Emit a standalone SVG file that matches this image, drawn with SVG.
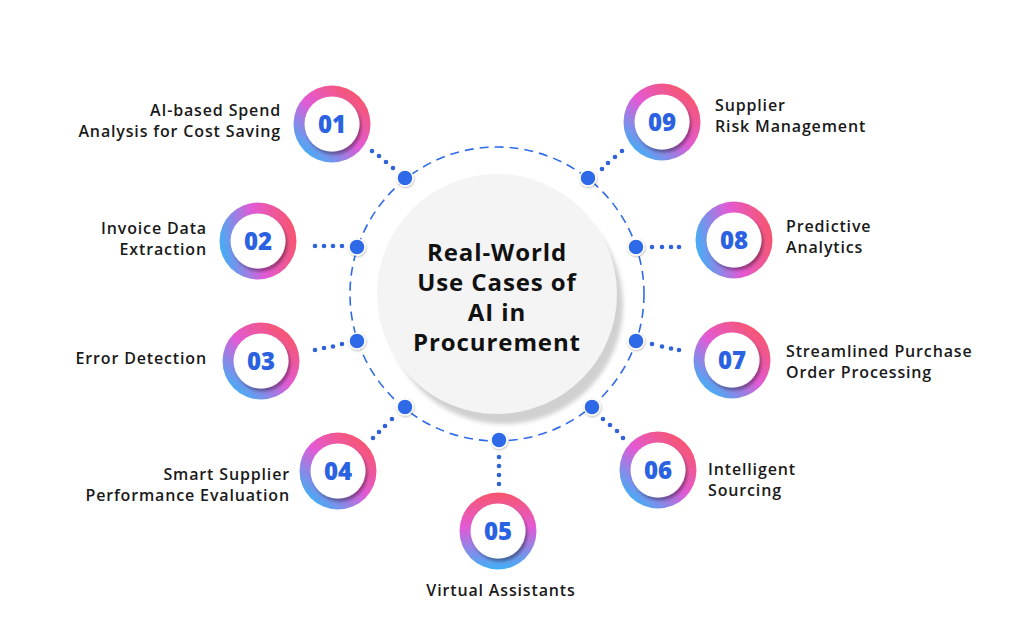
<svg xmlns="http://www.w3.org/2000/svg" width="1024" height="636" viewBox="0 0 1024 636">
<defs>
<linearGradient id="gD" x1="0.85" y1="0.1" x2="0.15" y2="0.9">
<stop offset="0" stop-color="#f8556b"/><stop offset="0.5" stop-color="#e25ad6"/><stop offset="1" stop-color="#3fb0f6"/>
</linearGradient>
<linearGradient id="gH" x1="1" y1="0.4" x2="0" y2="0.6">
<stop offset="0" stop-color="#f8556b"/><stop offset="0.5" stop-color="#e25ad6"/><stop offset="1" stop-color="#3fb0f6"/>
</linearGradient>
<linearGradient id="gV" x1="0.5" y1="0" x2="0.5" y2="1">
<stop offset="0" stop-color="#f8556b"/><stop offset="0.45" stop-color="#e25ad6"/><stop offset="1" stop-color="#3fb0f6"/>
</linearGradient>
<filter id="sh" x="-30%" y="-30%" width="160%" height="160%">
<feDropShadow dx="2" dy="3" stdDeviation="1.6" flood-color="#000" flood-opacity="0.35"/>
</filter>
<filter id="bl" x="-20%" y="-20%" width="140%" height="140%">
<feGaussianBlur stdDeviation="2"/>
</filter>
<filter id="ds" x="-50%" y="-50%" width="200%" height="200%">
<feDropShadow dx="0.5" dy="1" stdDeviation="0.8" flood-color="#000" flood-opacity="0.3"/>
</filter>
</defs>
<style>
.lbl{font-family:"Open Sans","Liberation Sans",sans-serif;font-weight:600;font-size:16px;letter-spacing:0.85px;fill:#1a1a1a}
.num{font-family:"Open Sans","Liberation Sans",sans-serif;font-weight:800;font-size:24px;fill:#2a62e2;text-anchor:middle}
.ttl{font-family:"Open Sans","Liberation Sans",sans-serif;font-weight:700;font-size:24px;letter-spacing:0.9px;fill:#111;text-anchor:middle}
.in{fill:#fff;filter:url(#sh)}
.hub{fill:#2f6ae8;stroke:#fff;stroke-width:1.5;filter:url(#ds)}
.cd{fill:#2f62d8}
</style>
<rect width="1024" height="636" fill="#fff"/>

<g id="center">
<circle cx="504" cy="305" r="119" fill="#d0d0d0" filter="url(#bl)"/>
<circle cx="497" cy="294" r="120" fill="#f4f4f4"/>
<text class="ttl" x="497" y="261">Real-World</text>
<text class="ttl" x="497" y="291">Use Cases of</text>
<text class="ttl" x="497" y="321">AI in</text>
<text class="ttl" x="497" y="351">Procurement</text>
</g>

<g id="connectors">
<circle cx="497" cy="294" r="147" fill="none" stroke="#2f6ae8" stroke-width="1.6" stroke-dasharray="9 6"/>
<g class="cd">
<circle cx="372" cy="151" r="2.3"/><circle cx="379" cy="156" r="2.3"/><circle cx="386" cy="162" r="2.3"/><circle cx="393" cy="168" r="2.3"/>
<circle cx="315" cy="246" r="2.3"/><circle cx="324" cy="246" r="2.3"/><circle cx="333" cy="246" r="2.3"/><circle cx="342" cy="246" r="2.3"/>
<circle cx="315" cy="350" r="2.3"/><circle cx="324" cy="348" r="2.3"/><circle cx="333" cy="346.5" r="2.3"/><circle cx="342" cy="344" r="2.3"/>
<circle cx="373" cy="438" r="2.3"/><circle cx="379" cy="432" r="2.3"/><circle cx="385" cy="426" r="2.3"/><circle cx="392" cy="419" r="2.3"/>
<circle cx="499" cy="457" r="2.3"/><circle cx="499" cy="466" r="2.3"/><circle cx="499" cy="475" r="2.3"/><circle cx="499" cy="484" r="2.3"/>
<circle cx="603" cy="419" r="2.3"/><circle cx="610" cy="425" r="2.3"/><circle cx="617" cy="431" r="2.3"/><circle cx="623" cy="438" r="2.3"/>
<circle cx="652" cy="344" r="2.3"/><circle cx="662" cy="346.5" r="2.3"/><circle cx="671" cy="348.5" r="2.3"/><circle cx="679" cy="350" r="2.3"/>
<circle cx="652" cy="247" r="2.3"/><circle cx="662" cy="247" r="2.3"/><circle cx="671" cy="247" r="2.3"/><circle cx="679" cy="247" r="2.3"/>
<circle cx="602" cy="169" r="2.3"/><circle cx="608" cy="163" r="2.3"/><circle cx="615" cy="157" r="2.3"/><circle cx="622" cy="151" r="2.3"/>
</g>
<circle class="hub" cx="405" cy="178" r="8"/>
<circle class="hub" cx="357" cy="247" r="8"/>
<circle class="hub" cx="357" cy="341" r="8"/>
<circle class="hub" cx="405" cy="407" r="8"/>
<circle class="hub" cx="499" cy="440" r="8"/>
<circle class="hub" cx="592" cy="407" r="8"/>
<circle class="hub" cx="636" cy="341" r="8"/>
<circle class="hub" cx="636" cy="247" r="8"/>
<circle class="hub" cx="588" cy="178" r="8"/>
</g>

<g id="n01">
<circle cx="332" cy="124" r="38.5" fill="url(#gD)"/><circle class="in" cx="332" cy="124" r="27.5"/>
<text class="num" x="332" y="133">01</text>
<text class="lbl" x="281" y="116" text-anchor="end">AI-based Spend</text>
<text class="lbl" x="281" y="137" text-anchor="end">Analysis for Cost Saving</text>
</g>
<g id="n02">
<circle cx="258" cy="241" r="38.5" fill="url(#gH)"/><circle class="in" cx="258" cy="241" r="27.5"/>
<text class="num" x="258" y="250">02</text>
<text class="lbl" x="207" y="234" text-anchor="end">Invoice Data</text>
<text class="lbl" x="207" y="255" text-anchor="end">Extraction</text>
</g>
<g id="n03">
<circle cx="261" cy="361" r="38.5" fill="url(#gD)"/><circle class="in" cx="261" cy="361" r="27.5"/>
<text class="num" x="261" y="370">03</text>
<text class="lbl" x="207" y="364" text-anchor="end">Error Detection</text>
</g>
<g id="n04">
<circle cx="338" cy="471" r="38.5" fill="url(#gD)"/><circle class="in" cx="338" cy="471" r="27.5"/>
<text class="num" x="338" y="480">04</text>
<text class="lbl" x="290" y="480" text-anchor="end">Smart Supplier</text>
<text class="lbl" x="290" y="501" text-anchor="end">Performance Evaluation</text>
</g>
<g id="n05">
<circle cx="498" cy="531" r="38.5" fill="url(#gV)"/><circle class="in" cx="498" cy="531" r="27.5"/>
<text class="num" x="498" y="540">05</text>
<text class="lbl" x="501" y="596" text-anchor="middle">Virtual Assistants</text>
</g>
<g id="n06">
<circle cx="658" cy="470" r="38.5" fill="url(#gD)"/><circle class="in" cx="658" cy="470" r="27.5"/>
<text class="num" x="658" y="479">06</text>
<text class="lbl" x="708" y="475">Intelligent</text>
<text class="lbl" x="708" y="496">Sourcing</text>
</g>
<g id="n07">
<circle cx="732" cy="360" r="38.5" fill="url(#gD)"/><circle class="in" cx="732" cy="360" r="27.5"/>
<text class="num" x="732" y="369">07</text>
<text class="lbl" x="786" y="357">Streamlined Purchase</text>
<text class="lbl" x="786" y="378">Order Processing</text>
</g>
<g id="n08">
<circle cx="734" cy="240" r="38.5" fill="url(#gH)"/><circle class="in" cx="734" cy="240" r="27.5"/>
<text class="num" x="734" y="249">08</text>
<text class="lbl" x="786" y="232">Predictive</text>
<text class="lbl" x="786" y="253">Analytics</text>
</g>
<g id="n09">
<circle cx="662" cy="122" r="38.5" fill="url(#gD)"/><circle class="in" cx="662" cy="122" r="27.5"/>
<text class="num" x="662" y="131">09</text>
<text class="lbl" x="715" y="111">Supplier</text>
<text class="lbl" x="715" y="132">Risk Management</text>
</g>
</svg>
